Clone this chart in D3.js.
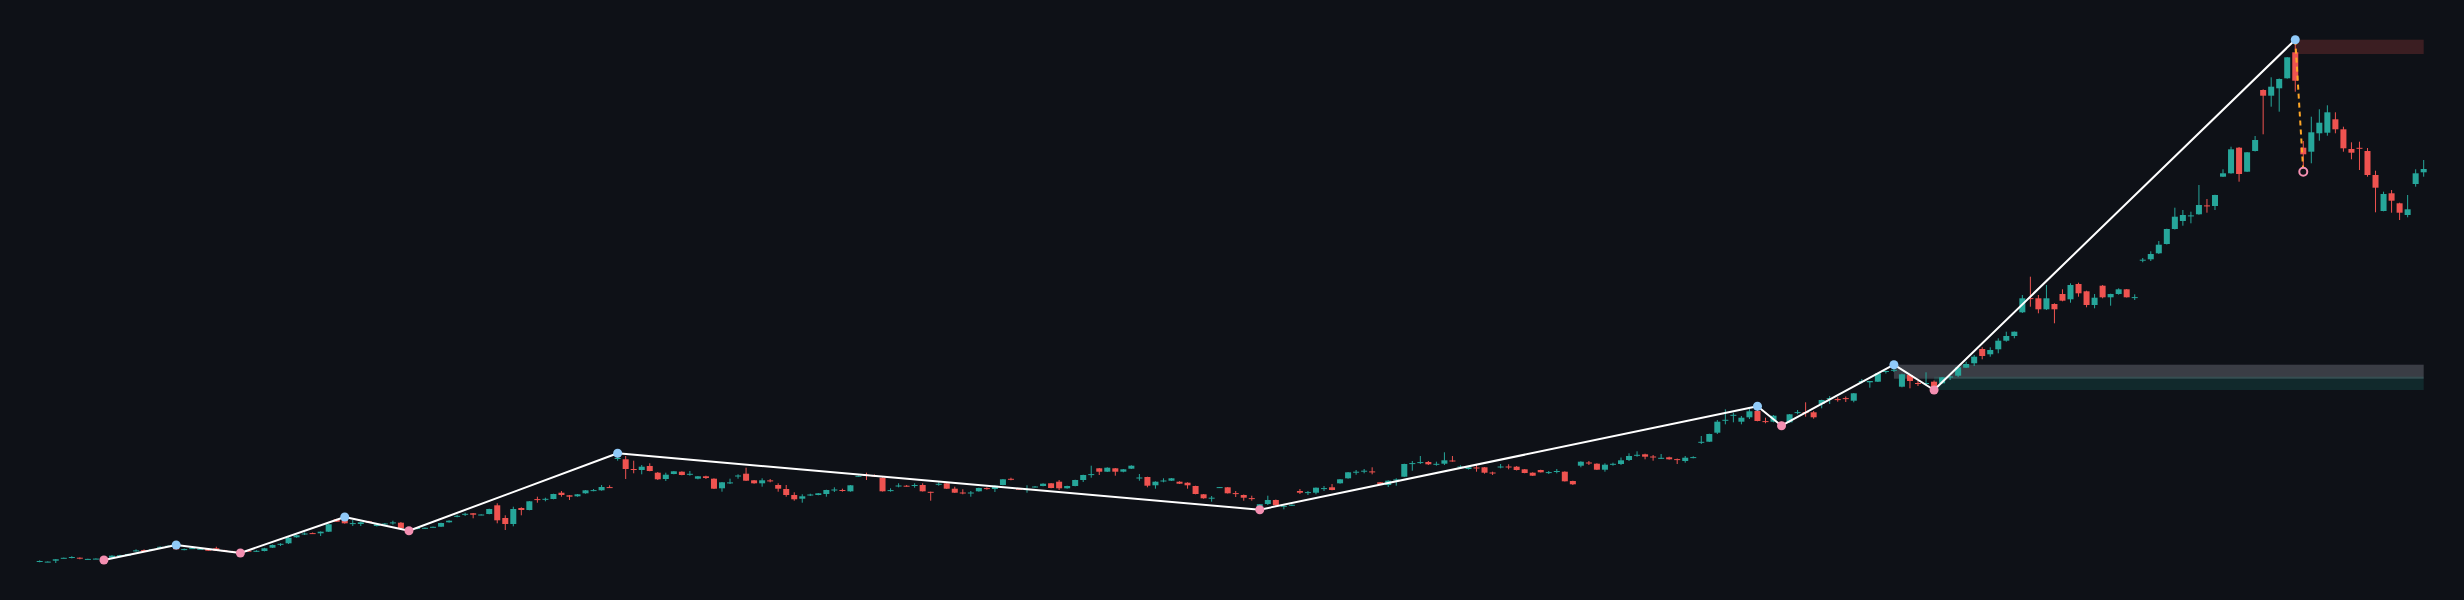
<!DOCTYPE html>
<html><head><meta charset="utf-8">
<script src="https://cdn.jsdelivr.net/npm/d3@7/dist/d3.min.js"></script>
<style>html,body{margin:0;padding:0;background:#0e1117;overflow:hidden}</style>
</head><body>
<svg id="chart" width="2464" height="600"></svg>
<script>
// OHLC prices (index 0..297)
const open = [
38.3,38.0,39.3,41.8,42.4,42.3,40.8,41.1,40.2,42.3,
44.2,44.3,49.0,49.9,50.4,52.8,53.3,53.3,50.5,51.4,
51.0,51.0,51.7,49.8,48.8,48.5,49.3,48.8,49.0,52.3,
55.7,56.7,62.7,66.0,66.9,66.7,68.3,80.7,80.0,76.3,
76.0,78.7,74.0,76.0,77.0,77.3,70.5,71.0,71.7,72.7,
73.3,77.7,83.6,85.7,86.7,85.0,86.0,94.7,82.0,76.0,
92.0,90.0,100.9,100.7,101.0,107.3,104.7,103.7,106.7,109.3,
109.7,112.9,141.4,140.7,131.0,130.0,134.0,127.3,121.0,126.0,
128.3,125.7,121.3,123.7,121.3,111.7,117.0,124.0,126.3,119.7,
116.7,119.6,115.0,111.0,105.0,101.3,105.0,105.0,106.0,110.0,
110.0,108.7,123.7,125.3,124.5,122.3,109.5,114.0,114.3,114.5,
115.0,108.2,115.8,116.7,111.3,107.5,107.1,108.7,111.9,111.0,
115.0,121.2,111.2,110.5,113.0,114.0,116.7,118.3,111.7,114.0,
120.0,125.4,131.7,128.3,131.7,128.3,131.3,122.0,123.0,114.7,
119.1,119.3,118.3,117.3,114.0,105.7,101.7,112.3,112.7,106.9,
105.0,101.9,94.0,96.0,100.0,93.8,94.8,109.0,107.5,107.3,
111.5,112.7,116.7,121.7,127.8,128.8,128.6,117.7,115.0,120.1,
123.3,136.4,137.4,138.0,135.7,136.3,139.5,133.1,131.0,132.5,
132.7,127.5,133.1,133.5,133.3,130.7,127.3,130.0,127.5,128.5,
128.3,119.0,134.3,137.5,136.3,130.3,135.8,136.0,140.0,144.6,
145.7,143.5,141.8,142.7,140.9,139.0,142.5,157.8,158.3,167.3,
179.8,184.8,178.3,182.7,189.0,178.9,178.3,177.7,177.7,187.5,
187.9,187.7,196.0,201.5,200.9,201.9,199.3,218.6,217.7,218.3,
228.6,229.7,213.3,225.0,217.0,216.5,218.3,216.7,223.1,224.3,
232.3,236.7,251.0,245.7,250.7,259.3,264.0,287.7,301.9,301.7,
290.7,296.0,306.0,300.7,316.0,308.7,295.0,314.3,302.7,306.0,
310.7,302.5,339.7,340.7,346.7,356.0,371.0,379.0,384.0,385.7,
394.6,394.0,423.3,426.7,452.3,428.3,449.0,510.0,504.3,511.7,
521.7,547.7,452.3,448.3,466.7,467.3,480.7,470.7,451.0,452.2,
449.0,425.0,389.0,406.7,396.7,385.0,416.0,427.7];
const high = [
39.7,38.6,40.9,42.4,43.8,42.6,41.3,41.6,42.0,44.8,
45.2,46.3,50.7,50.6,51.2,53.7,54.6,55.0,51.5,52.2,
51.4,51.3,53.3,50.2,49.2,49.0,49.6,49.8,52.2,55.5,
56.7,63.5,65.2,67.7,67.5,68.6,76.0,81.2,83.0,80.0,
78.3,79.3,76.3,77.0,79.3,78.0,72.0,72.5,72.5,73.4,
77.3,79.7,85.3,87.3,87.0,85.7,91.3,96.7,84.7,93.3,
92.7,99.0,103.3,102.3,106.3,109.0,105.0,106.0,110.0,111.0,
115.0,114.7,146.7,144.0,139.3,135.0,136.7,128.0,127.3,129.0,
128.7,129.0,124.0,124.3,121.7,118.0,121.3,125.7,132.3,120.0,
121.7,121.0,116.7,115.0,107.7,105.7,106.3,107.0,110.3,112.7,
111.3,115.0,124.5,127.3,125.5,122.7,111.7,116.7,115.0,116.7,
116.7,108.3,117.7,117.0,113.3,110.7,109.0,112.3,112.7,114.7,
121.0,122.3,111.6,114.7,114.0,116.7,117.0,120.0,114.3,120.3,
125.3,134.3,132.0,132.7,132.0,131.0,134.7,126.0,123.3,118.7,
121.7,122.0,118.7,117.7,114.3,106.0,104.0,113.0,113.0,109.0,
105.5,104.3,96.0,104.3,100.5,94.7,95.7,111.0,109.0,112.5,
114.0,116.0,121.0,128.0,130.0,131.0,132.7,118.0,119.7,121.7,
136.3,139.0,144.0,139.0,138.3,147.7,144.0,134.7,133.0,135.0,
133.0,128.3,136.0,135.7,134.0,131.0,127.7,130.3,129.0,131.0,
128.7,119.3,138.7,139.0,136.7,136.7,137.3,142.5,146.7,148.7,
146.3,145.0,146.0,143.3,141.5,144.0,143.7,164.0,166.3,180.0,
190.7,187.3,184.0,191.0,193.7,182.3,185.0,178.3,186.0,190.0,
197.7,189.0,200.3,204.0,202.7,203.5,207.0,221.0,219.0,227.0,
229.3,235.3,226.3,225.3,219.0,227.7,219.5,223.0,224.0,234.0,
238.3,245.0,252.7,252.7,261.7,268.3,268.5,305.0,323.3,305.0,
315.0,296.7,310.7,316.7,317.3,309.3,306.0,315.0,306.3,311.7,
311.0,305.7,342.0,348.7,359.0,371.3,392.3,390.0,388.3,415.0,
401.0,405.3,430.7,453.3,453.0,448.0,464.0,510.7,522.7,521.5,
543.0,560.3,459.0,483.3,490.7,494.7,487.7,473.3,457.7,458.3,
452.0,429.3,408.3,410.0,397.3,405.0,430.7,440.0];
const low = [
37.7,37.8,37.0,41.6,41.6,40.7,40.6,40.9,40.0,42.0,
44.0,44.0,48.5,48.8,50.1,52.3,53.0,50.4,49.7,51.0,
50.6,49.0,49.0,49.2,48.0,47.0,48.6,48.2,48.6,52.0,
54.0,56.0,62.3,65.0,66.1,64.0,68.0,78.0,76.3,74.0,
74.0,77.0,73.5,75.5,75.3,71.3,69.3,70.5,71.3,72.5,
73.0,77.3,82.7,84.0,81.7,84.7,85.7,76.7,70.0,73.7,
84.7,89.7,97.3,98.7,100.7,103.3,100.0,103.3,106.3,108.7,
109.3,112.3,139.3,121.0,126.7,125.7,128.7,120.0,119.0,125.7,
124.7,124.3,120.7,121.0,111.0,108.3,116.0,121.3,119.0,116.3,
113.3,117.7,108.3,103.3,99.3,97.3,104.0,104.7,103.3,108.0,
108.3,108.3,123.3,120.0,123.0,108.5,108.3,112.7,113.3,112.3,
108.5,99.3,114.3,111.0,107.0,105.7,103.3,108.3,110.3,108.0,
114.7,119.7,110.3,107.3,112.5,113.7,111.7,110.0,111.3,113.7,
118.0,122.3,125.0,128.0,124.3,127.7,131.0,119.3,112.7,111.3,
117.7,119.0,116.0,111.3,105.7,101.3,98.3,112.0,106.5,103.0,
99.3,99.3,90.3,95.0,94.3,90.7,94.0,106.0,105.0,105.7,
109.0,109.7,116.3,121.3,125.3,126.7,125.7,115.7,113.0,114.3,
123.0,129.3,136.0,135.0,134.3,135.0,138.3,132.3,130.5,128.3,
126.3,125.0,131.7,130.7,129.5,126.7,124.0,127.5,126.0,126.7,
118.5,115.0,132.7,135.0,130.0,128.3,134.3,135.0,139.0,143.3,
140.7,139.3,141.0,140.3,136.0,137.3,141.7,156.0,158.0,166.0,
175.7,177.7,175.7,181.0,178.7,176.7,177.7,174.3,177.3,185.7,
183.3,181.3,191.7,196.0,198.3,198.0,197.7,216.7,212.3,218.0,
226.5,228.0,212.7,211.7,214.0,215.0,210.0,216.3,220.0,223.0,
232.0,234.0,240.7,243.3,246.7,258.3,261.7,287.0,293.3,286.7,
290.0,276.7,298.7,297.3,303.3,292.7,291.7,301.7,294.3,305.3,
302.5,300.0,337.7,339.0,346.0,355.5,370.5,374.3,376.7,385.3,
387.3,390.0,423.0,426.3,418.3,428.0,448.5,465.7,493.3,488.3,
521.3,508.3,428.3,436.7,459.3,464.3,466.7,448.3,440.7,430.0,
423.3,387.7,388.7,387.3,380.0,382.7,413.3,423.3];
const close = [
39.0,38.4,40.7,42.2,43.0,41.3,41.1,41.4,41.6,44.3,
44.8,46.0,49.6,49.5,50.9,53.2,54.2,50.7,50.9,51.9,
51.2,49.3,49.3,49.5,48.3,47.6,48.8,49.2,51.7,55.0,
56.2,62.3,64.7,66.5,66.5,68.3,75.7,78.3,76.7,76.9,
77.7,77.3,75.7,76.5,77.6,71.7,71.2,72.0,72.2,73.2,
77.0,79.3,84.2,86.2,85.3,85.5,91.0,79.7,76.0,91.0,
90.0,98.7,100.5,101.2,106.0,105.0,103.3,105.7,109.7,109.9,
113.0,112.5,142.0,131.0,130.5,133.3,129.0,120.7,125.3,128.7,
125.0,126.2,123.7,122.0,111.3,117.7,117.6,124.5,119.3,116.7,
119.7,119.0,111.3,105.0,100.7,103.7,105.5,106.7,110.0,110.5,
109.5,114.7,124.2,124.7,123.7,108.7,109.9,114.5,113.8,115.0,
108.7,107.8,116.2,111.3,107.3,107.1,107.5,112.0,111.5,114.3,
120.7,120.8,110.6,110.9,113.5,116.3,112.0,111.7,114.0,120.0,
125.0,125.9,128.3,132.3,128.3,130.7,134.3,122.5,114.3,118.3,
119.5,121.7,116.3,114.7,106.0,101.7,102.3,112.9,106.7,106.5,
102.3,101.5,95.8,100.0,94.7,94.2,95.2,107.3,107.9,112.3,
111.9,110.0,120.7,127.7,128.3,129.3,128.1,116.0,119.3,120.6,
136.0,136.9,137.9,135.7,136.2,139.7,139.1,133.5,132.7,132.1,
127.3,127.1,133.5,133.1,130.0,127.0,124.3,127.7,127.9,129.0,
118.7,115.7,138.3,137.1,130.3,135.3,136.2,139.7,144.0,145.2,
143.3,143.1,142.2,140.7,140.5,142.3,142.9,158.2,166.0,178.3,
180.2,185.2,182.3,188.7,179.0,178.5,184.3,175.0,185.7,187.9,
187.5,182.7,200.0,201.9,200.5,201.5,206.7,219.0,219.0,226.7,
229.0,230.2,225.7,219.0,216.5,217.0,212.5,222.7,223.5,232.7,
236.0,243.3,244.0,250.0,259.3,264.0,268.3,301.7,301.5,290.7,
301.7,290.7,299.3,315.0,306.7,295.0,302.3,302.7,306.0,310.7,
302.7,302.9,340.3,346.0,355.3,371.0,383.3,385.0,384.6,395.0,
394.0,405.0,426.7,450.7,426.0,447.7,460.0,504.3,513.3,521.0,
542.7,519.3,445.7,467.7,477.3,487.7,470.7,451.7,447.3,451.8,
425.0,412.3,406.0,399.3,387.3,390.7,426.7,431.0];

// Zigzag pivots (candle index and type)
const pivotIdx  = [8, 17, 25, 38, 46, 72, 152, 214, 217, 231, 236, 281];
const pivotKind = ['L','H','L','H','L','H','L','H','L','H','L','H'];
const pendingIdx = 282;     // unconfirmed low
// Zones (start index, top price, bottom price, kind)
const zoneStart  = [231, 236, 281];
const zoneTop    = [235.3, 223.3, 560.3];
const zoneBottom = [221.3, 210.0, 546.0];
const zoneKind   = ['mitigated', 'support', 'resistance'];

const W = 2464, H = 600, N = open.length;
const svg = d3.select('#chart');
svg.append('rect').attr('width', W).attr('height', H).attr('fill', '#0e1117');

const x = d3.scaleBand().domain(d3.range(N)).range([35.7, 2427.7]).paddingInner(0.25).paddingOuter(0.125);
const cx = i => x(i) + x.bandwidth() / 2;
const y = d3.scaleLinear().domain([0, 600]).range([600, 0]);

const UP = '#26a69a', DOWN = '#ef5350';
const zoneFill = {mitigated: 'rgba(120,123,134,0.42)', support: 'rgba(38,166,154,0.16)', resistance: 'rgba(239,83,80,0.2)'};

// zones
svg.append('g').selectAll('rect').data(d3.range(zoneStart.length)).join('rect')
  .attr('x', k => cx(zoneStart[k]))
  .attr('width', k => cx(N - 1) - cx(zoneStart[k]))
  .attr('y', k => y(zoneTop[k]))
  .attr('height', k => y(zoneBottom[k]) - y(zoneTop[k]))
  .attr('fill', k => zoneFill[zoneKind[k]]);

// candles
const candles = d3.range(N);
const gC = svg.append('g');
gC.selectAll('line').data(candles).join('line')
  .attr('x1', cx).attr('x2', cx)
  .attr('y1', i => y(high[i])).attr('y2', i => y(low[i]))
  .attr('stroke', i => close[i] >= open[i] ? UP : DOWN)
  .attr('stroke-width', 1);
gC.selectAll('rect').data(candles).join('rect')
  .attr('x', i => x(i))
  .attr('width', x.bandwidth())
  .attr('y', i => y(Math.max(open[i], close[i])))
  .attr('height', i => Math.max(1, Math.abs(y(open[i]) - y(close[i]))))
  .attr('fill', i => close[i] >= open[i] ? UP : DOWN);

// zigzag
const pv = pivotIdx.map((i, k) => ({i, kind: pivotKind[k], v: pivotKind[k] === 'H' ? high[i] : low[i]}));
svg.append('path')
  .attr('d', d3.line().x(d => cx(d.i)).y(d => y(d.v))(pv))
  .attr('fill', 'none').attr('stroke', '#ffffff').attr('stroke-width', 2).attr('stroke-linejoin', 'round');

// pending leg
const last = pv[pv.length - 1];
svg.append('line')
  .attr('x1', cx(last.i)).attr('y1', y(last.v))
  .attr('x2', cx(pendingIdx)).attr('y2', y(low[pendingIdx]))
  .attr('stroke', '#ffa726').attr('stroke-width', 2).attr('stroke-dasharray', '5,4');

svg.append('g').selectAll('circle').data(pv).join('circle')
  .attr('cx', d => cx(d.i)).attr('cy', d => y(d.v)).attr('r', 4.5)
  .attr('fill', d => d.kind === 'H' ? '#90caf9' : '#f48fb1');

svg.append('circle')
  .attr('cx', cx(pendingIdx)).attr('cy', y(low[pendingIdx])).attr('r', 4)
  .attr('fill', '#0e1117').attr('stroke', '#f48fb1').attr('stroke-width', 2);
</script>
</body></html>
